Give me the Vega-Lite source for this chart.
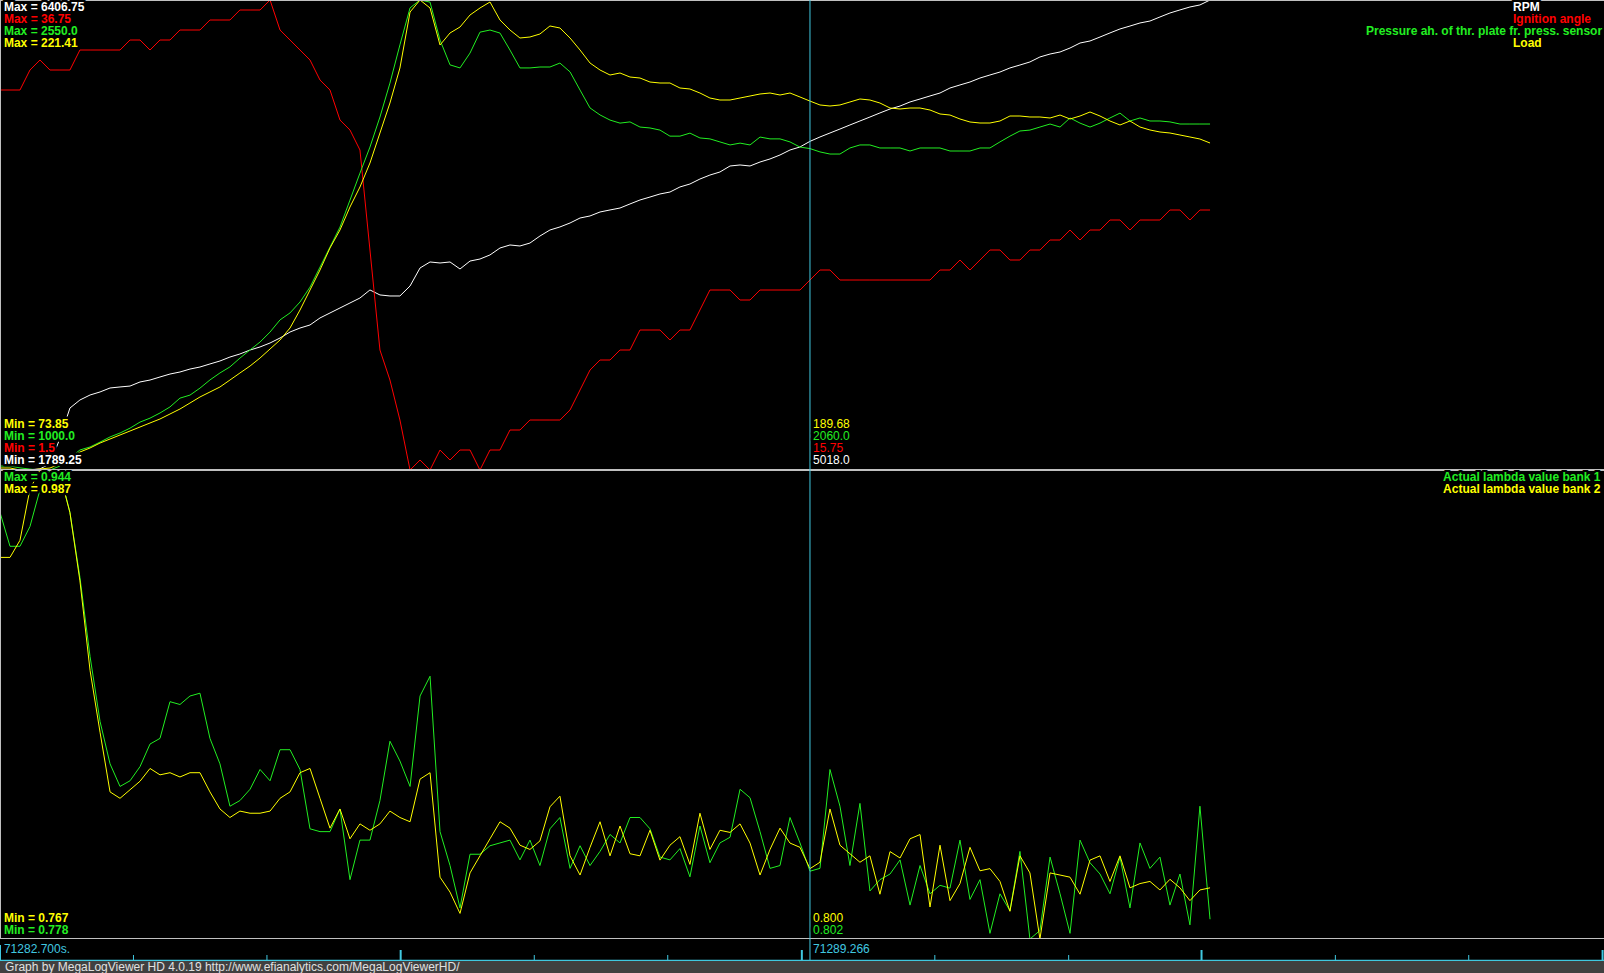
{
  "$schema": "https://vega.github.io/schema/vega-lite/v6.json",
  "background": "#000000",
  "padding": 0,
  "spacing": 0,
  "bounds": "flush",
  "config": {"view": {"stroke": null}, "concat": {"spacing": 0}, "text": {"font": "Liberation Sans"}, "line": {"strokeJoin": "bevel", "strokeCap": "butt"}},
  "resolve": {"scale": {"x": "independent", "y": "independent", "color": "independent"}},
  "datasets": {
    "log": [
      {"t":71282.700,"rpm":1795,"ign":30.0,"map":1013,"load":74.48,"lam1":0.929,"lam2":0.946},
      {"t":71282.781,"rpm":1790,"ign":30.0,"map":1013,"load":74.48,"lam1":0.917,"lam2":0.946},
      {"t":71282.862,"rpm":1789.25,"ign":30.0,"map":1007,"load":73.85,"lam1":0.917,"lam2":0.954},
      {"t":71282.943,"rpm":1792,"ign":31.5,"map":1003,"load":73.85,"lam1":0.924,"lam2":0.978},
      {"t":71283.024,"rpm":1800,"ign":32.25,"map":1000,"load":74.16,"lam1":0.937,"lam2":0.987},
      {"t":71283.105,"rpm":1850,"ign":31.5,"map":1000,"load":74.48,"lam1":0.944,"lam2":0.987},
      {"t":71283.186,"rpm":2100,"ign":31.5,"map":1013,"load":75.73,"lam1":0.943,"lam2":0.985},
      {"t":71283.267,"rpm":2398,"ign":31.5,"map":1040,"load":77.30,"lam1":0.929,"lam2":0.967},
      {"t":71283.348,"rpm":2477,"ign":33.0,"map":1066,"load":79.50,"lam1":0.906,"lam2":0.935},
      {"t":71283.430,"rpm":2526,"ign":33.0,"map":1076,"load":80.76,"lam1":0.878,"lam2":0.893},
      {"t":71283.511,"rpm":2556,"ign":33.0,"map":1092,"load":82.32,"lam1":0.855,"lam2":0.864},
      {"t":71283.592,"rpm":2595,"ign":33.0,"map":1109,"load":83.58,"lam1":0.840,"lam2":0.836},
      {"t":71283.673,"rpm":2605,"ign":33.0,"map":1122,"load":84.84,"lam1":0.832,"lam2":0.833},
      {"t":71283.754,"rpm":2614,"ign":33.75,"map":1138,"load":86.09,"lam1":0.834,"lam2":0.837},
      {"t":71283.835,"rpm":2654,"ign":33.75,"map":1158,"load":87.35,"lam1":0.839,"lam2":0.841},
      {"t":71283.916,"rpm":2673,"ign":33.0,"map":1171,"load":88.61,"lam1":0.847,"lam2":0.847},
      {"t":71283.997,"rpm":2703,"ign":33.75,"map":1188,"load":89.86,"lam1":0.849,"lam2":0.844},
      {"t":71284.078,"rpm":2732,"ign":33.75,"map":1208,"load":91.43,"lam1":0.862,"lam2":0.845},
      {"t":71284.159,"rpm":2752,"ign":34.5,"map":1237,"load":93.00,"lam1":0.861,"lam2":0.843},
      {"t":71284.240,"rpm":2781,"ign":34.5,"map":1247,"load":94.88,"lam1":0.864,"lam2":0.845},
      {"t":71284.321,"rpm":2801,"ign":34.5,"map":1270,"load":96.77,"lam1":0.865,"lam2":0.845},
      {"t":71284.402,"rpm":2831,"ign":35.25,"map":1297,"load":98.34,"lam1":0.849,"lam2":0.836},
      {"t":71284.483,"rpm":2860,"ign":35.25,"map":1320,"load":99.91,"lam1":0.840,"lam2":0.828},
      {"t":71284.564,"rpm":2899,"ign":35.25,"map":1340,"load":102.10,"lam1":0.825,"lam2":0.824},
      {"t":71284.645,"rpm":2929,"ign":36.0,"map":1369,"load":104.30,"lam1":0.827,"lam2":0.827},
      {"t":71284.727,"rpm":2968,"ign":36.0,"map":1396,"load":106.50,"lam1":0.831,"lam2":0.826},
      {"t":71284.808,"rpm":2998,"ign":36.0,"map":1422,"load":109.01,"lam1":0.838,"lam2":0.826},
      {"t":71284.889,"rpm":3037,"ign":36.75,"map":1455,"load":111.84,"lam1":0.834,"lam2":0.827},
      {"t":71284.970,"rpm":3086,"ign":34.5,"map":1495,"load":114.66,"lam1":0.845,"lam2":0.833},
      {"t":71285.051,"rpm":3145,"ign":33.75,"map":1518,"load":118.43,"lam1":0.845,"lam2":0.836},
      {"t":71285.132,"rpm":3184,"ign":33.0,"map":1554,"load":124.08,"lam1":0.838,"lam2":0.845},
      {"t":71285.213,"rpm":3214,"ign":32.25,"map":1603,"load":130.36,"lam1":0.817,"lam2":0.847},
      {"t":71285.294,"rpm":3283,"ign":30.75,"map":1669,"load":136.64,"lam1":0.816,"lam2":0.833},
      {"t":71285.375,"rpm":3332,"ign":30.0,"map":1735,"load":143.55,"lam1":0.816,"lam2":0.819},
      {"t":71285.456,"rpm":3381,"ign":27.75,"map":1801,"load":149.20,"lam1":0.824,"lam2":0.828},
      {"t":71285.537,"rpm":3430,"ign":27.0,"map":1890,"load":156.42,"lam1":0.799,"lam2":0.814},
      {"t":71285.618,"rpm":3479,"ign":25.5,"map":1979,"load":162.70,"lam1":0.813,"lam2":0.821},
      {"t":71285.699,"rpm":3558,"ign":18.0,"map":2065,"load":170.23,"lam1":0.813,"lam2":0.818},
      {"t":71285.780,"rpm":3509,"ign":10.5,"map":2164,"load":179.65,"lam1":0.827,"lam2":0.821},
      {"t":71285.861,"rpm":3499,"ign":8.25,"map":2276,"load":189.07,"lam1":0.848,"lam2":0.827},
      {"t":71285.942,"rpm":3499,"ign":5.25,"map":2402,"load":200.06,"lam1":0.841,"lam2":0.824},
      {"t":71286.024,"rpm":3597,"ign":1.5,"map":2524,"load":217.64,"lam1":0.832,"lam2":0.822},
      {"t":71286.105,"rpm":3774,"ign":2.25,"map":2550,"load":221.41,"lam1":0.864,"lam2":0.842},
      {"t":71286.186,"rpm":3833,"ign":1.5,"map":2543,"load":218.90,"lam1":0.871,"lam2":0.845},
      {"t":71286.267,"rpm":3823,"ign":3.0,"map":2418,"load":207.28,"lam1":0.816,"lam2":0.796},
      {"t":71286.348,"rpm":3833,"ign":2.25,"map":2336,"load":211.05,"lam1":0.804,"lam2":0.789},
      {"t":71286.429,"rpm":3764,"ign":3.0,"map":2326,"load":212.93,"lam1":0.789,"lam2":0.779},
      {"t":71286.510,"rpm":3842,"ign":3.0,"map":2375,"load":216.70,"lam1":0.808,"lam2":0.798},
      {"t":71286.591,"rpm":3862,"ign":1.5,"map":2444,"load":218.90,"lam1":0.808,"lam2":0.806},
      {"t":71286.672,"rpm":3902,"ign":3.0,"map":2451,"load":220.78,"lam1":0.811,"lam2":0.814},
      {"t":71286.753,"rpm":3970,"ign":3.0,"map":2441,"load":215.13,"lam1":0.812,"lam2":0.822},
      {"t":71286.834,"rpm":4000,"ign":4.5,"map":2385,"load":211.99,"lam1":0.813,"lam2":0.819},
      {"t":71286.915,"rpm":3990,"ign":4.5,"map":2326,"load":209.48,"lam1":0.806,"lam2":0.811},
      {"t":71286.996,"rpm":4019,"ign":5.25,"map":2326,"load":209.79,"lam1":0.813,"lam2":0.809},
      {"t":71287.077,"rpm":4088,"ign":5.25,"map":2329,"load":210.74,"lam1":0.804,"lam2":0.813},
      {"t":71287.158,"rpm":4147,"ign":5.25,"map":2329,"load":213.25,"lam1":0.817,"lam2":0.829},
      {"t":71287.239,"rpm":4177,"ign":5.25,"map":2342,"load":212.62,"lam1":0.821,"lam2":0.834},
      {"t":71287.321,"rpm":4216,"ign":6.0,"map":2313,"load":209.48,"lam1":0.803,"lam2":0.806},
      {"t":71287.402,"rpm":4265,"ign":7.5,"map":2253,"load":205.71,"lam1":0.811,"lam2":0.797},
      {"t":71287.483,"rpm":4285,"ign":9.0,"map":2194,"load":201.63,"lam1":0.804,"lam2":0.810},
      {"t":71287.564,"rpm":4324,"ign":9.75,"map":2171,"load":199.43,"lam1":0.809,"lam2":0.822},
      {"t":71287.645,"rpm":4344,"ign":9.75,"map":2154,"load":197.86,"lam1":0.815,"lam2":0.806},
      {"t":71287.726,"rpm":4363,"ign":10.5,"map":2144,"load":198.49,"lam1":0.812,"lam2":0.820},
      {"t":71287.807,"rpm":4403,"ign":10.5,"map":2148,"load":197.23,"lam1":0.821,"lam2":0.807},
      {"t":71287.888,"rpm":4442,"ign":12.0,"map":2131,"load":196.92,"lam1":0.821,"lam2":0.806},
      {"t":71287.969,"rpm":4471,"ign":12.0,"map":2128,"load":195.66,"lam1":0.817,"lam2":0.818},
      {"t":71288.050,"rpm":4501,"ign":12.0,"map":2121,"load":195.35,"lam1":0.807,"lam2":0.804},
      {"t":71288.131,"rpm":4520,"ign":11.25,"map":2101,"load":195.35,"lam1":0.806,"lam2":0.811},
      {"t":71288.212,"rpm":4570,"ign":12.0,"map":2101,"load":193.78,"lam1":0.810,"lam2":0.815},
      {"t":71288.293,"rpm":4599,"ign":12.0,"map":2111,"load":193.47,"lam1":0.800,"lam2":0.802},
      {"t":71288.374,"rpm":4648,"ign":13.5,"map":2095,"load":192.21,"lam1":0.818,"lam2":0.826},
      {"t":71288.455,"rpm":4687,"ign":15.0,"map":2092,"load":190.64,"lam1":0.805,"lam2":0.809},
      {"t":71288.536,"rpm":4717,"ign":15.0,"map":2082,"load":190.01,"lam1":0.812,"lam2":0.818},
      {"t":71288.618,"rpm":4776,"ign":15.0,"map":2072,"load":190.01,"lam1":0.814,"lam2":0.817},
      {"t":71288.699,"rpm":4786,"ign":14.25,"map":2078,"load":190.64,"lam1":0.831,"lam2":0.821},
      {"t":71288.780,"rpm":4776,"ign":14.25,"map":2072,"load":191.27,"lam1":0.828,"lam2":0.812},
      {"t":71288.861,"rpm":4815,"ign":15.0,"map":2098,"load":191.90,"lam1":0.816,"lam2":0.797},
      {"t":71288.942,"rpm":4845,"ign":15.0,"map":2092,"load":192.21,"lam1":0.803,"lam2":0.809},
      {"t":71289.023,"rpm":4884,"ign":15.0,"map":2092,"load":191.58,"lam1":0.804,"lam2":0.819},
      {"t":71289.104,"rpm":4933,"ign":15.0,"map":2082,"load":192.21,"lam1":0.821,"lam2":0.812},
      {"t":71289.185,"rpm":4963,"ign":15.0,"map":2065,"load":190.96,"lam1":0.812,"lam2":0.810},
      {"t":71289.266,"rpm":5018,"ign":15.75,"map":2060,"load":189.68,"lam1":0.802,"lam2":0.800},
      {"t":71289.347,"rpm":5061,"ign":16.5,"map":2049,"load":188.45,"lam1":0.803,"lam2":0.803},
      {"t":71289.428,"rpm":5100,"ign":16.5,"map":2042,"load":188.13,"lam1":0.838,"lam2":0.828},
      {"t":71289.509,"rpm":5139,"ign":15.75,"map":2042,"load":188.45,"lam1":0.825,"lam2":0.811},
      {"t":71289.590,"rpm":5179,"ign":15.75,"map":2062,"load":189.39,"lam1":0.804,"lam2":0.807},
      {"t":71289.671,"rpm":5218,"ign":15.75,"map":2072,"load":190.33,"lam1":0.826,"lam2":0.803},
      {"t":71289.752,"rpm":5257,"ign":15.75,"map":2072,"load":190.01,"lam1":0.795,"lam2":0.806},
      {"t":71289.833,"rpm":5297,"ign":15.75,"map":2062,"load":189.07,"lam1":0.799,"lam2":0.788},
      {"t":71289.915,"rpm":5336,"ign":15.75,"map":2062,"load":187.50,"lam1":0.801,"lam2":0.808},
      {"t":71289.996,"rpm":5365,"ign":15.75,"map":2062,"load":187.19,"lam1":0.806,"lam2":0.805},
      {"t":71290.077,"rpm":5405,"ign":15.75,"map":2052,"load":187.50,"lam1":0.790,"lam2":0.814},
      {"t":71290.158,"rpm":5434,"ign":15.75,"map":2062,"load":187.50,"lam1":0.804,"lam2":0.816},
      {"t":71290.239,"rpm":5464,"ign":15.75,"map":2062,"load":186.87,"lam1":0.794,"lam2":0.782},
      {"t":71290.320,"rpm":5493,"ign":16.5,"map":2062,"load":185.62,"lam1":0.797,"lam2":0.811},
      {"t":71290.401,"rpm":5542,"ign":16.5,"map":2052,"load":185.30,"lam1":0.796,"lam2":0.785},
      {"t":71290.482,"rpm":5572,"ign":17.25,"map":2052,"load":184.05,"lam1":0.813,"lam2":0.793},
      {"t":71290.563,"rpm":5601,"ign":16.5,"map":2052,"load":183.11,"lam1":0.792,"lam2":0.810},
      {"t":71290.644,"rpm":5640,"ign":17.25,"map":2062,"load":182.79,"lam1":0.799,"lam2":0.799},
      {"t":71290.725,"rpm":5670,"ign":18.0,"map":2062,"load":182.79,"lam1":0.780,"lam2":0.800},
      {"t":71290.806,"rpm":5699,"ign":18.0,"map":2082,"load":183.42,"lam1":0.794,"lam2":0.794},
      {"t":71290.887,"rpm":5739,"ign":17.25,"map":2101,"load":184.99,"lam1":0.788,"lam2":0.780},
      {"t":71290.968,"rpm":5768,"ign":17.25,"map":2118,"load":184.99,"lam1":0.809,"lam2":0.806},
      {"t":71291.049,"rpm":5798,"ign":18.0,"map":2121,"load":184.68,"lam1":0.778,"lam2":0.798},
      {"t":71291.130,"rpm":5847,"ign":18.0,"map":2131,"load":184.68,"lam1":0.781,"lam2":0.767},
      {"t":71291.212,"rpm":5876,"ign":18.75,"map":2141,"load":184.36,"lam1":0.807,"lam2":0.798},
      {"t":71291.293,"rpm":5896,"ign":18.75,"map":2131,"load":185.30,"lam1":0.794,"lam2":0.797},
      {"t":71291.374,"rpm":5935,"ign":19.5,"map":2161,"load":184.05,"lam1":0.780,"lam2":0.796},
      {"t":71291.455,"rpm":5984,"ign":18.75,"map":2144,"load":184.99,"lam1":0.813,"lam2":0.788},
      {"t":71291.536,"rpm":6004,"ign":19.5,"map":2131,"load":186.25,"lam1":0.805,"lam2":0.804},
      {"t":71291.617,"rpm":6043,"ign":19.5,"map":2144,"load":184.99,"lam1":0.801,"lam2":0.806},
      {"t":71291.698,"rpm":6083,"ign":20.25,"map":2161,"load":183.42,"lam1":0.794,"lam2":0.794},
      {"t":71291.779,"rpm":6122,"ign":20.25,"map":2177,"load":182.17,"lam1":0.807,"lam2":0.806},
      {"t":71291.860,"rpm":6151,"ign":19.5,"map":2151,"load":183.42,"lam1":0.789,"lam2":0.791},
      {"t":71291.941,"rpm":6181,"ign":20.25,"map":2161,"load":181.54,"lam1":0.812,"lam2":0.793},
      {"t":71292.022,"rpm":6200,"ign":20.25,"map":2151,"load":180.60,"lam1":0.803,"lam2":0.794},
      {"t":71292.103,"rpm":6240,"ign":20.25,"map":2151,"load":179.97,"lam1":0.807,"lam2":0.790},
      {"t":71292.184,"rpm":6279,"ign":21.0,"map":2148,"load":179.65,"lam1":0.790,"lam2":0.795},
      {"t":71292.265,"rpm":6309,"ign":21.0,"map":2141,"load":179.03,"lam1":0.801,"lam2":0.791},
      {"t":71292.346,"rpm":6338,"ign":20.25,"map":2141,"load":178.40,"lam1":0.783,"lam2":0.785},
      {"t":71292.427,"rpm":6358,"ign":21.0,"map":2141,"load":177.77,"lam1":0.825,"lam2":0.790},
      {"t":71292.509,"rpm":6406.75,"ign":21.0,"map":2141,"load":176.51,"lam1":0.785,"lam2":0.791}
    ],
    "labels": [
      {"panel":"top","kind":"stat","series":"rpm","text":"Max = 6406.75","t":71282.732,"line":0},
      {"panel":"top","kind":"stat","series":"ign","text":"Max = 36.75","t":71282.732,"line":1},
      {"panel":"top","kind":"stat","series":"map","text":"Max = 2550.0","t":71282.732,"line":2},
      {"panel":"top","kind":"stat","series":"load","text":"Max = 221.41","t":71282.732,"line":3},
      {"panel":"top","kind":"stat","series":"load","text":"Min = 73.85","t":71282.732,"line":34.75},
      {"panel":"top","kind":"stat","series":"map","text":"Min = 1000.0","t":71282.732,"line":35.75},
      {"panel":"top","kind":"stat","series":"ign","text":"Min = 1.5","t":71282.732,"line":36.75},
      {"panel":"top","kind":"stat","series":"rpm","text":"Min = 1789.25","t":71282.732,"line":37.75},
      {"panel":"top","kind":"stat","series":"rpm","text":"RPM","t":71294.965,"line":0},
      {"panel":"top","kind":"stat","series":"ign","text":"Ignition angle","t":71294.965,"line":1},
      {"panel":"top","kind":"stat","series":"map","text":"Pressure ah. of thr. plate fr. press. sensor","t":71293.773,"line":2},
      {"panel":"top","kind":"stat","series":"load","text":"Load","t":71294.965,"line":3},
      {"panel":"top","kind":"cursor","series":"load","text":"189.68","t":71289.291,"line":34.75},
      {"panel":"top","kind":"cursor","series":"map","text":"2060.0","t":71289.291,"line":35.75},
      {"panel":"top","kind":"cursor","series":"ign","text":"15.75","t":71289.291,"line":36.75},
      {"panel":"top","kind":"cursor","series":"rpm","text":"5018.0","t":71289.291,"line":37.75},
      {"panel":"bottom","kind":"stat","series":"lam1","text":"Max = 0.944","t":71282.732,"line":0},
      {"panel":"bottom","kind":"stat","series":"lam2","text":"Max = 0.987","t":71282.732,"line":1},
      {"panel":"bottom","kind":"stat","series":"lam2","text":"Min = 0.767","t":71282.732,"line":36.75},
      {"panel":"bottom","kind":"stat","series":"lam1","text":"Min = 0.778","t":71282.732,"line":37.75},
      {"panel":"bottom","kind":"stat","series":"lam1","text":"Actual lambda value bank 1","t":71294.398,"line":0},
      {"panel":"bottom","kind":"stat","series":"lam2","text":"Actual lambda value bank 2","t":71294.398,"line":1},
      {"panel":"bottom","kind":"cursor","series":"lam2","text":"0.800","t":71289.291,"line":36.75},
      {"panel":"bottom","kind":"cursor","series":"lam1","text":"0.802","t":71289.291,"line":37.75},
      {"panel":"strip","kind":"cursor","series":"axis","text":"71282.700s.","t":71282.732,"line":0.28},
      {"panel":"strip","kind":"cursor","series":"axis","text":"71289.266","t":71289.291,"line":0.28},
      {"panel":"footer","kind":"cursor","series":"foot","text":"Graph by MegaLogViewer HD 4.0.19 http://www.efianalytics.com/MegaLogViewerHD/","t":71282.741,"line":0}
    ],
    "ticks": [
      {"t":71282.700,"kind":"start"},
      {"t":71283.782,"kind":"minor"},
      {"t":71284.864,"kind":"minor"},
      {"t":71285.948,"kind":"major"},
      {"t":71287.031,"kind":"minor"},
      {"t":71288.113,"kind":"minor"},
      {"t":71289.200,"kind":"major"},
      {"t":71290.278,"kind":"minor"},
      {"t":71291.363,"kind":"minor"},
      {"t":71292.440,"kind":"major"},
      {"t":71293.525,"kind":"minor"},
      {"t":71294.606,"kind":"minor"},
      {"t":71295.691,"kind":"major"}
    ],
    "frame": [{"edge": "start", "t": 71282.7}],
    "cursor": [{"t": 71289.266}]
  },
  "vconcat": [
    {
      "width": 1604,
      "height": 470,
      "resolve": {"scale": {"y": "independent"}},
      "layer": [
        {"data": {"name": "log"}, "mark": {"type": "line", "color": "#ffffff", "strokeWidth": 1, "clip": true},
         "encoding": {"x": {"field": "t", "type": "quantitative", "scale": {"domain": [71282.7, 71295.7026], "nice": false, "zero": false}, "axis": null},
                      "y": {"field": "rpm", "type": "quantitative", "scale": {"domain": [1789.25, 6406.75], "nice": false, "zero": false}, "axis": null}}},
        {"data": {"name": "log"}, "mark": {"type": "line", "color": "#ff0000", "strokeWidth": 1, "clip": true},
         "encoding": {"x": {"field": "t", "type": "quantitative"},
                      "y": {"field": "ign", "type": "quantitative", "scale": {"domain": [1.5, 36.75], "nice": false, "zero": false}, "axis": null}}},
        {"data": {"name": "log"}, "mark": {"type": "line", "color": "#22ee22", "strokeWidth": 1, "clip": true},
         "encoding": {"x": {"field": "t", "type": "quantitative"},
                      "y": {"field": "map", "type": "quantitative", "scale": {"domain": [1000, 2550], "nice": false, "zero": false}, "axis": null}}},
        {"data": {"name": "log"}, "mark": {"type": "line", "color": "#ffff00", "strokeWidth": 1, "clip": true},
         "encoding": {"x": {"field": "t", "type": "quantitative"},
                      "y": {"field": "load", "type": "quantitative", "scale": {"domain": [73.85, 221.41], "nice": false, "zero": false}, "axis": null}}},
        {"data": {"name": "frame"}, "mark": {"type": "rule", "color": "#c0c0c0", "strokeWidth": 2, "clip": true},
         "encoding": {"y": {"datum": 1, "type": "quantitative", "scale": {"domain": [0, 1], "nice": false, "zero": false}, "axis": null}}},
        {"data": {"name": "frame"}, "mark": {"type": "rule", "color": "#c0c0c0", "strokeWidth": 2, "clip": true},
         "encoding": {"y": {"datum": 0, "type": "quantitative", "scale": {"domain": [0, 1], "nice": false, "zero": false}, "axis": null}}},
        {"data": {"name": "frame"}, "mark": {"type": "rule", "color": "#c0c0c0", "strokeWidth": 2, "clip": true},
         "encoding": {"x": {"field": "t", "type": "quantitative"}}},
        {"data": {"name": "cursor"}, "mark": {"type": "rule", "color": "#40c8e0", "strokeWidth": 1, "clip": true},
         "encoding": {"x": {"field": "t", "type": "quantitative"}}},
        {"data": {"name": "labels"},
         "transform": [{"filter": "datum.panel == 'top'"}],
         "mark": {"type": "text", "align": "left", "baseline": "alphabetic", "fontSize": 12, "fontWeight": "bold", "font": "Liberation Sans", "color": "#000000", "stroke": "#000000", "strokeWidth": 5, "strokeJoin": "round", "clip": true},
         "encoding": {
           "x": {"field": "t", "type": "quantitative"},
           "y": {"field": "line", "type": "quantitative", "scale": {"domain": [-0.917, 38.25], "reverse": true, "nice": false, "zero": false}, "axis": null},
           "text": {"field": "text"}
         }},
        {"data": {"name": "labels"},
         "transform": [{"filter": "datum.panel == 'top' && datum.kind == 'stat'"}],
         "mark": {"type": "text", "align": "left", "baseline": "alphabetic", "fontSize": 12, "fontWeight": "bold", "font": "Liberation Sans", "clip": true},
         "encoding": {
           "x": {"field": "t", "type": "quantitative"},
           "y": {"field": "line", "type": "quantitative", "scale": {"domain": [-0.917, 38.25], "reverse": true, "nice": false, "zero": false}, "axis": null},
           "text": {"field": "text"},
           "color": {"field": "series", "type": "nominal", "scale": {"domain": ["rpm", "ign", "map", "load"], "range": ["#ffffff", "#ff0000", "#22ee22", "#ffff00"]}, "legend": null}
         }},
        {"data": {"name": "labels"},
         "transform": [{"filter": "datum.panel == 'top' && datum.kind == 'cursor'"}],
         "mark": {"type": "text", "align": "left", "baseline": "alphabetic", "fontSize": 12, "font": "Liberation Sans", "clip": true},
         "encoding": {
           "x": {"field": "t", "type": "quantitative"},
           "y": {"field": "line", "type": "quantitative", "scale": {"domain": [-0.917, 38.25], "reverse": true, "nice": false, "zero": false}, "axis": null},
           "text": {"field": "text"},
           "color": {"field": "series", "type": "nominal", "scale": {"domain": ["rpm", "ign", "map", "load"], "range": ["#ffffff", "#ff0000", "#22ee22", "#ffff00"]}, "legend": null}
         }}
      ]
    },
    {
      "width": 1604,
      "height": 469,
      "resolve": {"scale": {"y": "independent"}},
      "layer": [
        {"data": {"name": "log"}, "mark": {"type": "line", "color": "#22ee22", "strokeWidth": 1, "clip": true},
         "encoding": {"x": {"field": "t", "type": "quantitative", "scale": {"domain": [71282.7, 71295.7026], "nice": false, "zero": false}, "axis": null},
                      "y": {"field": "lam1", "type": "quantitative", "scale": {"domain": [0.778, 0.944], "nice": false, "zero": false}, "axis": null}}},
        {"data": {"name": "log"}, "mark": {"type": "line", "color": "#ffff00", "strokeWidth": 1, "clip": true},
         "encoding": {"x": {"field": "t", "type": "quantitative"},
                      "y": {"field": "lam2", "type": "quantitative", "scale": {"domain": [0.767, 0.987], "nice": false, "zero": false}, "axis": null}}},
        {"data": {"name": "frame"}, "mark": {"type": "rule", "color": "#c0c0c0", "strokeWidth": 2, "clip": true},
         "encoding": {"y": {"datum": 1, "type": "quantitative", "scale": {"domain": [0, 1], "nice": false, "zero": false}, "axis": null}}},
        {"data": {"name": "frame"}, "mark": {"type": "rule", "color": "#c0c0c0", "strokeWidth": 2, "clip": true},
         "encoding": {"y": {"datum": 0, "type": "quantitative", "scale": {"domain": [0, 1], "nice": false, "zero": false}, "axis": null}}},
        {"data": {"name": "frame"}, "mark": {"type": "rule", "color": "#c0c0c0", "strokeWidth": 2, "clip": true},
         "encoding": {"x": {"field": "t", "type": "quantitative"}}},
        {"data": {"name": "cursor"}, "mark": {"type": "rule", "color": "#40c8e0", "strokeWidth": 1, "clip": true},
         "encoding": {"x": {"field": "t", "type": "quantitative"}}},
        {"data": {"name": "labels"},
         "transform": [{"filter": "datum.panel == 'bottom'"}],
         "mark": {"type": "text", "align": "left", "baseline": "alphabetic", "fontSize": 12, "fontWeight": "bold", "font": "Liberation Sans", "color": "#000000", "stroke": "#000000", "strokeWidth": 5, "strokeJoin": "round", "clip": true},
         "encoding": {
           "x": {"field": "t", "type": "quantitative"},
           "y": {"field": "line", "type": "quantitative", "scale": {"domain": [-0.917, 38.167], "reverse": true, "nice": false, "zero": false}, "axis": null},
           "text": {"field": "text"}
         }},
        {"data": {"name": "labels"},
         "transform": [{"filter": "datum.panel == 'bottom' && datum.kind == 'stat'"}],
         "mark": {"type": "text", "align": "left", "baseline": "alphabetic", "fontSize": 12, "fontWeight": "bold", "font": "Liberation Sans", "clip": true},
         "encoding": {
           "x": {"field": "t", "type": "quantitative"},
           "y": {"field": "line", "type": "quantitative", "scale": {"domain": [-0.917, 38.167], "reverse": true, "nice": false, "zero": false}, "axis": null},
           "text": {"field": "text"},
           "color": {"field": "series", "type": "nominal", "scale": {"domain": ["lam1", "lam2"], "range": ["#22ee22", "#ffff00"]}, "legend": null}
         }},
        {"data": {"name": "labels"},
         "transform": [{"filter": "datum.panel == 'bottom' && datum.kind == 'cursor'"}],
         "mark": {"type": "text", "align": "left", "baseline": "alphabetic", "fontSize": 12, "font": "Liberation Sans", "clip": true},
         "encoding": {
           "x": {"field": "t", "type": "quantitative"},
           "y": {"field": "line", "type": "quantitative", "scale": {"domain": [-0.917, 38.167], "reverse": true, "nice": false, "zero": false}, "axis": null},
           "text": {"field": "text"},
           "color": {"field": "series", "type": "nominal", "scale": {"domain": ["lam1", "lam2"], "range": ["#22ee22", "#ffff00"]}, "legend": null}
         }}
      ]
    },
    {
      "width": 1604,
      "height": 22,
      "resolve": {"scale": {"y": "independent"}},
      "layer": [
        {"data": {"name": "ticks"}, "transform": [{"filter": "datum.kind == 'major'"}],
         "mark": {"type": "rule", "color": "#40c8e0", "strokeWidth": 2, "clip": true},
         "encoding": {"x": {"field": "t", "type": "quantitative", "scale": {"domain": [71282.7, 71295.7026], "nice": false, "zero": false}, "axis": null},
                      "y": {"datum": 0.5, "type": "quantitative", "scale": {"domain": [0, 22], "nice": false, "zero": false}, "axis": null}, "y2": {"datum": 11}}},
        {"data": {"name": "ticks"}, "transform": [{"filter": "datum.kind == 'minor'"}],
         "mark": {"type": "rule", "color": "#40c8e0", "strokeWidth": 1, "clip": true},
         "encoding": {"x": {"field": "t", "type": "quantitative"},
                      "y": {"datum": 0.5, "type": "quantitative", "scale": {"domain": [0, 22], "nice": false, "zero": false}, "axis": null}, "y2": {"datum": 6}}},
        {"data": {"name": "ticks"}, "transform": [{"filter": "datum.kind == 'start'"}],
         "mark": {"type": "rule", "color": "#40c8e0", "strokeWidth": 2, "clip": true},
         "encoding": {"x": {"field": "t", "type": "quantitative"},
                      "y": {"datum": 0.5, "type": "quantitative", "scale": {"domain": [0, 22], "nice": false, "zero": false}, "axis": null}, "y2": {"datum": 16}}},
        {"data": {"name": "frame"},
         "mark": {"type": "rule", "color": "#40c8e0", "strokeWidth": 1.5, "clip": true},
         "encoding": {"y": {"datum": 0.5, "type": "quantitative", "scale": {"domain": [0, 22], "nice": false, "zero": false}, "axis": null}}},
        {"data": {"name": "cursor"}, "mark": {"type": "rule", "color": "#40c8e0", "strokeWidth": 1, "clip": true},
         "encoding": {"x": {"field": "t", "type": "quantitative"}}},
        {"data": {"name": "labels"},
         "transform": [{"filter": "datum.panel == 'strip'"}],
         "mark": {"type": "text", "align": "left", "baseline": "alphabetic", "fontSize": 12, "font": "Liberation Sans", "color": "#40c8e0", "clip": true},
         "encoding": {
           "x": {"field": "t", "type": "quantitative"},
           "y": {"field": "line", "type": "quantitative", "scale": {"domain": [-0.917, 0.917], "reverse": true, "nice": false, "zero": false}, "axis": null},
           "text": {"field": "text"}
         }}
      ]
    },
    {
      "width": 1604,
      "height": 12,
      "view": {"fill": "#404040", "stroke": null},
      "data": {"name": "labels"},
      "transform": [{"filter": "datum.panel == 'footer'"}],
      "mark": {"type": "text", "align": "left", "baseline": "alphabetic", "fontSize": 12, "font": "Liberation Sans", "color": "#e0e0e0", "clip": true},
      "encoding": {
        "x": {"field": "t", "type": "quantitative", "scale": {"domain": [71282.7, 71295.7026], "nice": false, "zero": false}, "axis": null},
        "y": {"field": "line", "type": "quantitative", "scale": {"domain": [-0.833, 0.167], "reverse": true, "nice": false, "zero": false}, "axis": null},
        "text": {"field": "text"}
      }
    }
  ]
}
